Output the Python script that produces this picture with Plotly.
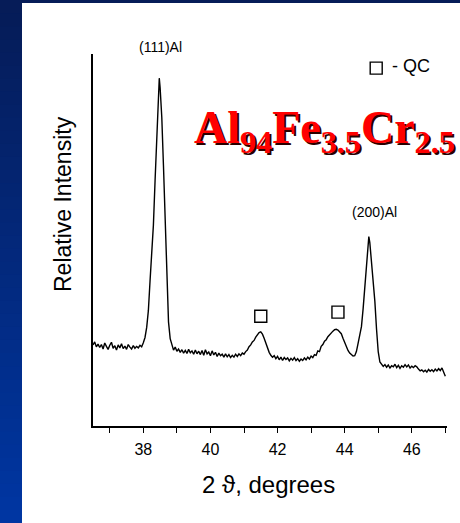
import plotly.graph_objects as go

# ---------------- data ----------------
two_theta = [
    36.50, 36.55, 36.60, 36.65, 36.70, 36.75, 36.80, 36.85, 36.90, 36.95,
    37.00, 37.05, 37.10, 37.15, 37.20, 37.25, 37.30, 37.35, 37.40, 37.45,
    37.50, 37.55, 37.60, 37.65, 37.70, 37.75, 37.80, 37.85, 37.90, 37.95,
    38.00, 38.05, 38.10, 38.15, 38.20, 38.25, 38.30, 38.35, 38.40, 38.45,
    38.475, 38.50, 38.55, 38.60, 38.65, 38.70, 38.75, 38.80, 38.85, 38.90,
    38.95, 39.00, 39.05, 39.10, 39.15, 39.20, 39.25, 39.30, 39.35, 39.40,
    39.45, 39.50, 39.55, 39.60, 39.65, 39.70, 39.75, 39.80, 39.85, 39.90,
    39.95, 40.00, 40.05, 40.10, 40.15, 40.20, 40.25, 40.30, 40.35, 40.40,
    40.45, 40.50, 40.55, 40.60, 40.65, 40.70, 40.75, 40.80, 40.85, 40.90,
    40.95, 41.00, 41.05, 41.10, 41.15, 41.20, 41.25, 41.30, 41.35, 41.40,
    41.45, 41.50, 41.55, 41.60, 41.65, 41.70, 41.75, 41.80, 41.85, 41.90,
    41.95, 42.00, 42.05, 42.10, 42.15, 42.20, 42.25, 42.30, 42.35, 42.40,
    42.45, 42.50, 42.55, 42.60, 42.65, 42.70, 42.75, 42.80, 42.85, 42.90,
    42.95, 43.00, 43.05, 43.10, 43.15, 43.20, 43.25, 43.30, 43.35, 43.40,
    43.45, 43.50, 43.55, 43.60, 43.65, 43.70, 43.75, 43.80, 43.85, 43.90,
    43.95, 44.00, 44.05, 44.10, 44.15, 44.20, 44.25, 44.30, 44.35, 44.40,
    44.45, 44.50, 44.55, 44.60, 44.65, 44.70, 44.72, 44.75, 44.80, 44.85,
    44.90, 44.95, 45.00, 45.05, 45.10, 45.15, 45.20, 45.25, 45.30, 45.35,
    45.40, 45.45, 45.50, 45.55, 45.60, 45.65, 45.70, 45.75, 45.80, 45.85,
    45.90, 45.95, 46.00, 46.05, 46.10, 46.15, 46.20, 46.25, 46.30, 46.35,
    46.40, 46.45, 46.50, 46.55, 46.60, 46.65, 46.70, 46.75, 46.80, 46.85,
    46.90, 46.95, 47.00,
]
intensity = [
    21.8, 22.6, 21.3, 22.0, 21.1, 21.9, 20.7, 22.3, 21.4, 20.6,
    21.7, 22.5, 20.9, 21.6, 20.4, 21.8, 21.0, 22.1, 20.8, 21.5,
    20.6, 21.9, 21.2, 20.7, 21.6, 20.9, 21.4, 21.0, 21.7, 21.3,
    22.4, 23.8, 26.5, 31.0, 39.0, 47.0, 54.0, 66.0, 79.0, 91.0,
    93.5, 91.0, 83.0, 70.0, 56.0, 40.0, 28.0, 23.5, 21.6, 20.4,
    21.2, 20.1, 20.7, 19.8, 20.5, 19.6, 20.3, 19.5, 20.6, 19.7,
    20.2, 19.3, 20.4, 19.4, 20.1, 19.2, 20.3, 19.0, 20.5, 19.4,
    19.9, 18.9, 20.2, 19.1, 19.8, 18.7, 19.6, 18.9, 19.3, 18.5,
    19.4, 18.6, 19.2, 18.4, 19.0, 18.5, 19.3, 18.7, 19.4, 18.9,
    19.6, 19.3, 20.0, 20.4, 21.3, 21.8, 22.6, 23.0, 23.9, 24.5,
    25.1, 25.3, 24.7, 23.6, 22.3, 20.9, 19.8, 19.0, 18.5, 18.9,
    18.1, 18.7, 17.8, 18.5, 17.6, 18.4, 17.9, 18.3, 17.5, 18.2,
    17.7, 18.4, 17.6, 18.1, 17.4, 18.0, 17.6, 18.3, 17.8, 18.5,
    18.0, 18.8, 18.4, 19.2, 19.0, 20.2, 20.0, 21.4, 21.9, 22.8,
    23.2, 24.0, 24.6, 25.2, 25.5, 25.9, 26.0, 25.8, 25.4, 24.8,
    23.6, 22.4, 21.3, 20.3, 19.6, 19.1, 18.8, 18.9, 20.0, 22.2,
    24.2, 26.7, 31.5, 37.4, 43.5, 49.5, 50.9, 49.3, 44.0, 39.0,
    33.5, 26.0, 20.0, 17.2, 16.6, 16.0, 16.5, 15.8, 16.4, 15.6,
    16.2, 15.9, 16.6, 15.7, 16.3, 15.5, 16.2, 15.8, 16.5, 15.9,
    16.4, 15.6, 16.1, 15.7, 16.2, 15.9, 15.3, 14.8, 15.1, 14.6,
    15.0, 14.5, 15.2, 14.7, 15.1, 14.6, 15.3, 14.8, 15.4, 14.9,
    15.6, 14.5, 13.4,
]

qc_x = [41.50, 43.80]
qc_y = [29.5, 30.6]

legend_sq_x = [44.94]
legend_sq_y = [96.2]

x_tick_vals = [38, 40, 42, 44, 46]
x_tick_text = ["38", "40", "42", "44", "46"]
x_minor_vals = [37, 39, 41, 43, 45, 47]

x_title = "2 \u03d1, degrees"
y_title = "Relative Intensity"
formula = "Al<sub>94</sub>Fe<sub>3.5</sub>Cr<sub>2.5</sub>"
peak_labels = ["(111)Al", "(200)Al"]
legend_text = "- QC"

# ---------------- layout geometry ----------------
W, H = 460, 523
L, R, T, B = 93, 447, 54, 426  # plot area in pixels


def px_x(px):
    return (px - L) / (R - L)


def px_y(py):
    return (B - py) / (B - T)


fig = go.Figure()

fig.add_trace(go.Scatter(
    x=two_theta, y=intensity, mode="lines",
    line=dict(color="black", width=1.4), showlegend=False, hoverinfo="skip",
))
fig.add_trace(go.Scatter(
    x=qc_x, y=qc_y, mode="markers",
    marker=dict(symbol="square-open", size=12, color="black",
                line=dict(width=1.4, color="black")),
    showlegend=False, hoverinfo="skip",
))
fig.add_trace(go.Scatter(
    x=legend_sq_x, y=legend_sq_y, mode="markers",
    marker=dict(symbol="square-open", size=12, color="black",
                line=dict(width=1.4, color="black")),
    showlegend=False, hoverinfo="skip", cliponaxis=False,
))

# background decoration: blue gradient band on the left, thin band on top
shapes = []
n_strips = 40
for i in range(n_strips):
    t = i / (n_strips - 1)
    r = int(6 + (0 - 6) * t)
    g = int(28 + (54 - 28) * t)
    b = int(88 + (162 - 88) * t)
    y0 = i * H / n_strips
    y1 = (i + 1) * H / n_strips + 1
    shapes.append(dict(type="rect", xref="paper", yref="paper",
                       x0=px_x(-2), x1=px_x(22), y0=px_y(y1), y1=px_y(y0),
                       fillcolor=f"rgb({r},{g},{b})", line=dict(width=0),
                       layer="below"))
shapes.append(dict(type="rect", xref="paper", yref="paper",
                   x0=px_x(-2), x1=px_x(W + 2), y0=px_y(3), y1=px_y(-2),
                   fillcolor="rgb(6,28,88)", line=dict(width=0), layer="below"))

sans = "Liberation Sans"
annotations = [
    dict(text=peak_labels[0], x=px_x(160), y=px_y(47), xref="paper", yref="paper",
         xanchor="center", yanchor="middle", showarrow=False,
         font=dict(family=sans, size=14, color="black")),
    dict(text=peak_labels[1], x=px_x(374), y=px_y(212), xref="paper", yref="paper",
         xanchor="center", yanchor="middle", showarrow=False,
         font=dict(family=sans, size=14, color="black")),
    dict(text=legend_text, x=px_x(390), y=px_y(66), xref="paper", yref="paper",
         xanchor="left", yanchor="middle", showarrow=False,
         font=dict(family=sans, size=18, color="black")),
    dict(text=formula, x=px_x(192), y=px_y(131), xref="paper", yref="paper",
         xanchor="left", yanchor="middle", showarrow=False, xshift=2, yshift=-2,
         font=dict(family="Liberation Serif", size=46, color="#2a0000", weight="bold")),
    dict(text=formula, x=px_x(192), y=px_y(131), xref="paper", yref="paper",
         xanchor="left", yanchor="middle", showarrow=False,
         font=dict(family="Liberation Serif", size=46, color="#ff0000", weight="bold")),
    dict(text=x_title, x=px_x(268), y=px_y(484), xref="paper", yref="paper",
         xanchor="center", yanchor="middle", showarrow=False,
         font=dict(family=sans, size=24, color="black")),
    dict(text=y_title, x=px_x(63), y=px_y(204), xref="paper", yref="paper",
         xanchor="center", yanchor="middle", textangle=-90, showarrow=False,
         font=dict(family=sans, size=23, color="black")),
]

fig.update_layout(
    width=W, height=H,
    margin=dict(l=L, r=W - R, t=T, b=H - B, pad=0),
    paper_bgcolor="white", plot_bgcolor="white",
    shapes=shapes, annotations=annotations,
    xaxis=dict(range=[36.5, 47.05], tickvals=x_tick_vals, ticktext=x_tick_text,
               ticks="outside", ticklen=5, tickwidth=1.4, tickcolor="black",
               ticklabelstandoff=3,
               minor=dict(tickvals=x_minor_vals, ticks="outside", ticklen=5,
                          tickwidth=1.4, tickcolor="black", showgrid=False),
               showline=True, linecolor="black", linewidth=1.5,
               showgrid=False, zeroline=False,
               tickfont=dict(family=sans, size=16, color="black")),
    yaxis=dict(range=[0, 100], showticklabels=False, ticks="",
               showline=True, linecolor="black", linewidth=1.5,
               showgrid=False, zeroline=False),
)

fig.write_html("out.html",
               config={"displayModeBar": False},
               post_script="document.body.style.margin='0px';"
                           "document.body.style.overflow='hidden';")
